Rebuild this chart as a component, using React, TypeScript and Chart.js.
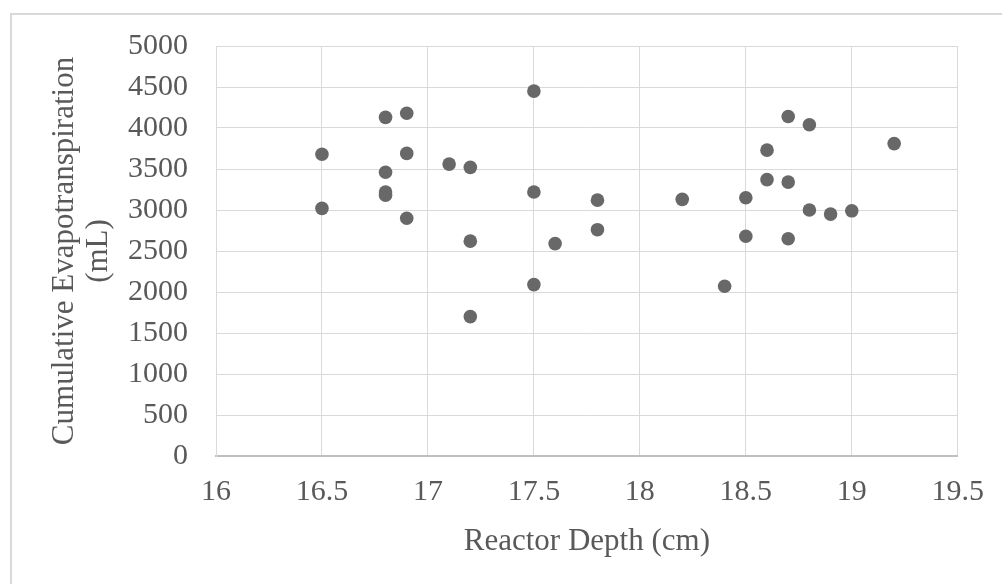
import React, { useEffect, useRef } from "react";
import { Chart, registerables } from "chart.js";

Chart.register(...registerables);

const depthCm: number[] = [
  16.5, 16.5, 16.8, 16.8, 16.8, 16.8, 16.9, 16.9, 16.9, 17.1, 17.2, 17.2, 17.2,
  17.5, 17.5, 17.5, 17.6, 17.8, 17.8, 18.2, 18.4, 18.5, 18.5, 18.6, 18.6, 18.7,
  18.7, 18.7, 18.8, 18.8, 18.9, 19.0, 19.2,
];
const etMl: number[] = [
  3680, 3020, 4130, 3460, 3220, 3180, 4180, 3690, 2900, 3560, 3520, 2620, 1700,
  4450, 3220, 2090, 2590, 3120, 2760, 3130, 2070, 3150, 2680, 3730, 3370, 4140,
  3340, 2650, 4040, 3000, 2950, 2990, 3810,
];
const xMin = 16;
const xMax = 19.5;
const xStep = 0.5;
const yMin = 0;
const yMax = 5000;
const yStep = 500;
const xTitle = "Reactor Depth (cm)";
const yTitle = ["Cumulative Evapotranspiration", "(mL)"];

const FONT = "'Liberation Serif', 'Times New Roman', serif";
const TEXT = "#595959";
const GRID = "#d9d9d9";

export default function App() {
  const ref = useRef<HTMLCanvasElement | null>(null);
  useEffect(() => {
    if (!ref.current) return;
    const chart = new Chart(ref.current, {
      type: "scatter",
      data: {
        datasets: [
          {
            data: depthCm.map((x, i) => ({ x, y: etMl[i] })),
            backgroundColor: "#686868",
            borderColor: "#686868",
            borderWidth: 0,
            pointRadius: 6.8,
            pointHoverRadius: 6.8,
          },
        ],
      },
      options: {
        animation: false,
        responsive: false,
        devicePixelRatio: 1,
        layout: { padding: { left: 10, top: 44, right: 44, bottom: 0 } },
        plugins: { legend: { display: false }, tooltip: { enabled: false } },
        scales: {
          x: {
            type: "linear",
            min: xMin,
            max: xMax,
            afterFit: (s: any) => {
              s.height = 128;
            },
            ticks: {
              stepSize: xStep,
              autoSkip: false,
              maxRotation: 0,
              padding: 18,
              color: TEXT,
              font: { family: FONT, size: 30 },
              callback: (v: any) => String(v),
            },
            grid: { color: GRID, drawTicks: false },
            border: { color: "#bfbfbf", width: 2 },
            title: {
              display: true,
              text: xTitle,
              color: TEXT,
              font: { family: FONT, size: 31, lineHeight: 1.2 },
              padding: { top: 0, bottom: 24 },
            },
          },
          y: {
            type: "linear",
            min: yMin,
            max: yMax,
            afterFit: (s: any) => {
              s.width = 206;
            },
            ticks: {
              stepSize: yStep,
              padding: 28,
              color: TEXT,
              font: { family: FONT, size: 30 },
              callback: (v: any) => String(v),
            },
            grid: { color: GRID, drawTicks: false },
            border: { color: GRID, width: 1 },
            title: {
              display: true,
              text: yTitle,
              color: TEXT,
              font: { family: FONT, size: 31, lineHeight: 1.1 },
              padding: { top: 38, bottom: 0 },
            },
          },
        },
      },
    });
    return () => chart.destroy();
  }, []);
  return (
    <div
      style={{
        position: "absolute",
        left: 0,
        top: 0,
        width: 1002,
        height: 584,
        overflow: "hidden",
        background: "#ffffff",
      }}
    >
      <div
        style={{
          position: "absolute",
          left: 10,
          top: 13,
          width: 1100,
          height: 700,
          borderLeft: "2px solid #d9d9d9",
          borderTop: "2px solid #d9d9d9",
        }}
      />
      <canvas
        ref={ref}
        width={1002}
        height={584}
        style={{ position: "absolute", left: 0, top: 0, width: 1002, height: 584 }}
      />
    </div>
  );
}
